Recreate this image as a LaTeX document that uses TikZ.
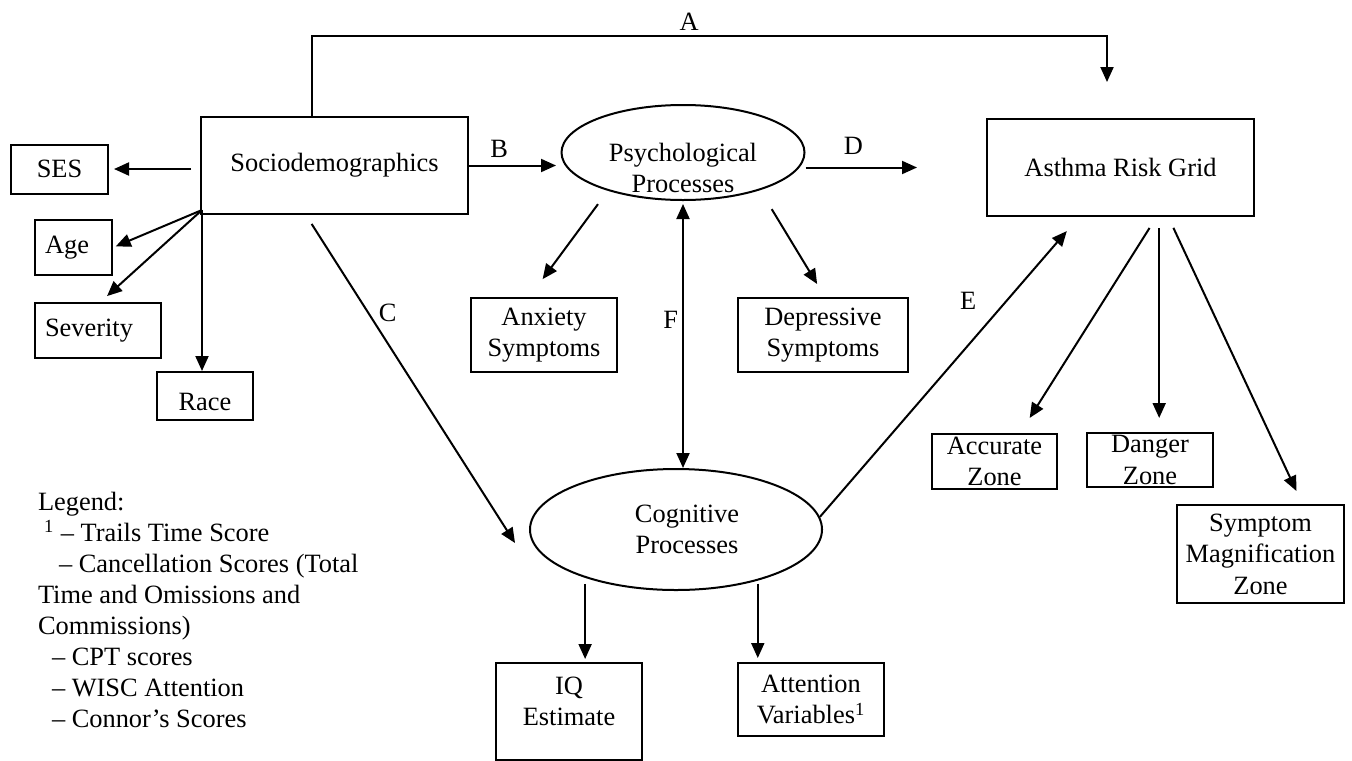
\documentclass[tikz,border=0pt]{standalone}
\usepackage{fontspec}
\setmainfont{Liberation Serif}
\usetikzlibrary{arrows.meta, shapes.geometric}

\begin{document}
\begin{tikzpicture}[
	x = 0.5pt, y = -0.5pt, % one unit is one pixel of the sketch
	> = {Triangle[length=7.5pt, width=6.5pt]}, % arrow head style
	line width = 1pt, % line style
	every node/.style = {font=\fontsize{13.2}{15.8}\selectfont}
	]
	
	\tikzstyle{box}=[
	draw,
	rectangle,
	align = center,
	inner sep = 0pt
	]
	\tikzstyle{oval}=[draw, ellipse, inner sep=0pt]
	\tikzstyle{tag}=[inner sep=1pt]
	
	\useasboundingbox (0,0) rectangle (1352,760);
	
	% left side
	\node[box, minimum width=133.5pt, minimum height=48.5pt] (socio) at (334.5,165.5) {Sociodemographics};
	\node[box, minimum width=48.5pt, minimum height=24.5pt] (ses) at (59.5,169) {SES};
	\node[box, align=left, text width=28.5pt, inner xsep=5pt, minimum height=27.5pt] (age) at (73.5,247.5) {Age};
	\node[box, align=left, text width=53pt, inner xsep=5pt, minimum height=27.5pt] (sev) at (98,330.5) {Severity};
	\node[box, minimum width=48pt, minimum height=24pt,
		label={[yshift=-3pt]center:Race}] (race) at (205,396) {};
	
	% middle
	\node[oval, minimum width=121.5pt, minimum height=47.5pt,
		label={[align=center, yshift=-7.75pt]center:Psychological\\Processes}] (psych) at (683,152.5) {};
	\node[box, minimum width=73pt, minimum height=37pt] (anx) at (544,335) {Anxiety\\Symptoms};
	\node[box, minimum width=85pt, minimum height=37pt] (dep) at (823,335) {Depressive\\Symptoms};
	\node[oval, minimum width=146pt, minimum height=60.5pt,
		label={[align=center, xshift=5.5pt]center:Cognitive\\Processes}] (cog) at (676,529.5) {};
	\node[box, minimum width=73pt, minimum height=48.5pt,
		label={[align=center, yshift=5pt]center:IQ\\Estimate}] (iq) at (569,711.5) {};
	\node[box, minimum width=73pt, minimum height=36.5pt] (att) at (811,699.5) {Attention\\Variables\textsuperscript{1}};
	
	% right side
	\node[box, minimum width=133.5pt, minimum height=48.5pt] (asthma) at (1120.5,167.5) {Asthma Risk Grid};
	\node[box, minimum width=62.5pt, minimum height=27.5pt] (acc) at (994.5,461.5) {Accurate\\Zone};
	\node[box, minimum width=63pt, minimum height=27pt] (dang) at (1150,460) {Danger\\Zone};
	\node[box, minimum width=83.5pt, minimum height=49pt] (sym) at (1260.5,554) {Symptom\\Magnification\\Zone};
	
	% legend
	\node[anchor=north west, align=left, inner sep=0pt,
		font=\fontsize{13.2}{15.5}\selectfont] (legend) at (37,491) {Legend:\\
		\hspace*{3pt}\textsuperscript{1} -- Trails Time Score\\
		\hspace*{10.5pt}-- Cancellation Scores (Total\\
		Time and Omissions and\\
		Commissions)\\
		\hspace*{7pt}-- CPT scores\\
		\hspace*{7pt}-- WISC Attention\\
		\hspace*{7pt}-- Connor's Scores};
	
	\coordinate (fork) at ([shift={(1pt,2.5pt)}]socio.south west);
	\coordinate (aturn) at (1107,36);
	
	% paths A to F
	\draw[->, shorten >=18pt] (socio.114) |- node[tag, pos=0.737, above=1.5pt] {A} (aturn) -- (aturn |- asthma.north);
	\draw[->, shorten >=2.25pt] (socio.east) -- node[tag, pos=0.33, above=2.4pt] {B} (socio.east -| psych.west);
	\draw[->, shorten <=5.3pt] (socio.240) -- node[tag, pos=0.298, right=3.85pt] {C} ([xshift=-7pt, yshift=-6.75pt]cog.west);
	\draw[->, shorten >=34.5pt] (psych.east |- asthma.west) -- node[tag, pos=0.266, above=4.9pt] {D} (asthma.west);
	\draw[->, shorten >=9.3pt] (cog.5) -- node[tag, pos=0.721, left=13.7pt] {E} (asthma.230);
	\draw[<->, shorten <=1.5pt] (psych.south) -- node[tag, pos=0.447, left=1pt] {F} (psych.south |- cog.north);
	
	% sociodemographics
	\draw[->, shorten <=4.5pt, shorten >=2.5pt] (socio.west |- ses.east) -- (ses.east);
	\draw[->, shorten >=1.5pt] (fork) -- (age.east);
	\draw[->, shorten >=4.4pt] (fork) -- (sev.85);
	\draw[->] (fork) -- (fork |- race.north);
	
	% psychological and cognitive
	\draw[->, shorten <=8.3pt, shorten >=11.1pt] (psych.207) -- (anx.111);
	\draw[->, shorten <=11.1pt, shorten >=7.6pt] (psych.334) -- (dep.87);
	\draw[->, shorten <=3pt, shorten >=1.5pt] (cog.208) -- (cog.208 |- iq.north);
	\draw[->, shorten <=1.5pt, shorten >=2pt] (cog.328) -- (cog.328 |- att.north);
	
	% risk grid zones
	\draw[->, shorten <=6.5pt, shorten >=8.9pt] (asthma.306) -- (acc.48);
	\draw[->, shorten <=5.5pt, shorten >=7pt] (asthma.308) -- (asthma.308 |- dang.north);
	\draw[->, shorten <=6pt, shorten >=7.2pt] (asthma.314) -- (sym.50);
	
\end{tikzpicture}
\end{document}
